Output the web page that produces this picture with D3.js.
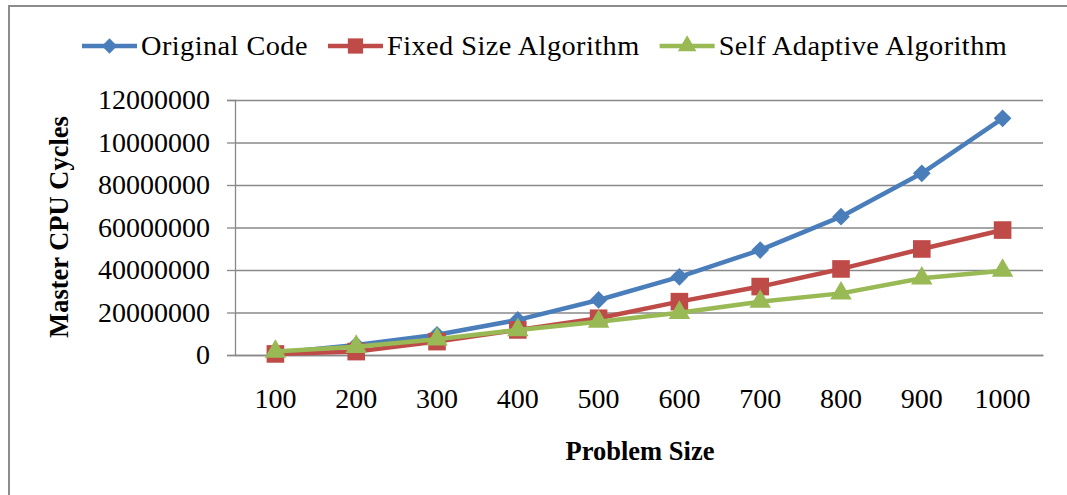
<!DOCTYPE html>
<html>
<head>
<meta charset="utf-8">
<script src="https://cdn.jsdelivr.net/npm/d3@7"></script>
<style>
  body { margin: 0; background: #fff; }
  svg { display: block; font-family: "Liberation Serif", "Times New Roman", serif; }
</style>
</head>
<body>
<script>
// data
const problemSizes = ["100", "200", "300", "400", "500", "600", "700", "800", "900", "1000"];
const originalCode = [1000000, 4700000, 9500000, 16500000, 25900000, 36800000, 49400000, 65100000, 85500000, 111400000];
const fixedSize = [500000, 1600000, 6300000, 11800000, 17300000, 25100000, 32200000, 40500000, 49900000, 58800000];
const selfAdaptive = [1600000, 3900000, 7400000, 11800000, 15700000, 19900000, 25100000, 29000000, 36100000, 39700000];
const seriesNames = ["Original Code", "Fixed Size Algorithm", "Self Adaptive Algorithm"];
const yTicks = [0, 20000000, 40000000, 60000000, 80000000, 100000000, 120000000];
// labels as printed on the original (last two are missing a zero)
const yTickLabels = ["0", "20000000", "40000000", "60000000", "80000000", "10000000", "12000000"];

let width = 1067;
let height = 495;
let marginTop = 100;
let marginRight = 24;
let marginBottom = 140;
let marginLeft = 235;

const colors = ["#4a7ebb", "#be4b48", "#98b954"];
const shapes = [d3.symbolDiamond2, d3.symbolSquare, d3.symbolTriangle];
const sizes = [200, 310, 200];

let series = [originalCode, fixedSize, selfAdaptive].map((vals, i) => ({
    name: seriesNames[i],
    color: colors[i],
    shape: shapes[i],
    size: sizes[i],
    values: vals.map((v, j) => ({ cat: problemSizes[j], value: v }))
}));

let svg = d3.select("body").append("svg")
    .attr("width", width)
    .attr("height", height)
    .attr("viewBox", [0, 0, width, height]);

// frame of the figure (only left and top edges show)
svg.append("path")
    .attr("d", `M9,${height} L9,6 L${width},6`)
    .attr("fill", "none")
    .attr("stroke", "#8c8c8c")
    .attr("stroke-width", 2);

let x = d3.scaleBand()
    .domain(problemSizes)
    .range([marginLeft, width - marginRight]);

let y = d3.scaleLinear()
    .domain([0, 120000000])
    .range([height - marginBottom, marginTop]);

// vertical axis with gridlines
svg.append("g")
    .attr("transform", `translate(${marginLeft},0)`)
    .call(d3.axisLeft(y).tickValues(yTicks).tickFormat((d, i) => yTickLabels[i]).tickSize(8).tickPadding(17))
    .call(g => g.select(".domain").attr("stroke", "#898989").attr("stroke-width", 1.3))
    .call(g => g.selectAll(".tick line").attr("stroke", "#898989").attr("stroke-width", 1.3))
    .call(g => g.selectAll(".tick line").clone()
        .attr("x2", width - marginRight - marginLeft)
        .attr("stroke", "#898989")
        .attr("stroke-width", 1.3))
    .call(g => g.selectAll("text")
        .style("font-family", "Liberation Serif")
        .style("font-size", "28px")
        .attr("fill", "#000"));

// horizontal axis
svg.append("g")
    .attr("transform", `translate(0,${height - marginBottom})`)
    .call(d3.axisBottom(x).tickSize(0).tickPadding(33))
    .call(g => g.select(".domain").attr("stroke", "#898989").attr("stroke-width", 1.3))
    .call(g => g.selectAll("text")
        .style("font-family", "Liberation Serif")
        .style("font-size", "28px")
        .attr("fill", "#000"));

// axis titles
svg.append("text")
    .attr("transform", "translate(68,227) rotate(-90)")
    .attr("text-anchor", "middle")
    .style("font-size", "26.5px")
    .style("font-weight", "bold")
    .text("Master CPU Cycles");

svg.append("text")
    .attr("x", 640)
    .attr("y", 460)
    .attr("text-anchor", "middle")
    .style("font-size", "26.5px")
    .style("font-weight", "bold")
    .text("Problem Size");

// lines and markers
let line = d3.line()
    .x(d => x(d.cat) + x.bandwidth() / 2)
    .y(d => y(d.value));

series.forEach(s => {
    let g = svg.append("g");
    g.append("path")
        .datum(s.values)
        .attr("fill", "none")
        .attr("stroke", s.color)
        .attr("stroke-width", 4.5)
        .attr("stroke-linejoin", "round")
        .attr("d", line);
    g.selectAll("path.marker")
        .data(s.values)
        .join("path")
        .attr("class", "marker")
        .attr("transform", d => `translate(${x(d.cat) + x.bandwidth() / 2},${y(d.value)})`)
        .attr("d", d3.symbol().type(s.shape).size(s.size))
        .attr("fill", s.color);
});

// legend
let legend = svg.append("g");
let lx = 82;
series.forEach(s => {
    let item = legend.append("g").attr("transform", `translate(${lx},0)`);
    item.append("line")
        .attr("x1", 0).attr("x2", 55)
        .attr("y1", 46).attr("y2", 46)
        .attr("stroke", s.color)
        .attr("stroke-width", 4.5);
    item.append("path")
        .attr("transform", "translate(27.5,46)")
        .attr("d", d3.symbol().type(s.shape).size(s.size * 0.75))
        .attr("fill", s.color);
    let t = item.append("text")
        .attr("x", 59)
        .attr("y", 55)
        .style("font-size", "28.3px")
        .style("letter-spacing", "0.45px")
        .text(s.name);
    lx += 59 + t.node().getComputedTextLength() + 20;
});
</script>
</body>
</html>
